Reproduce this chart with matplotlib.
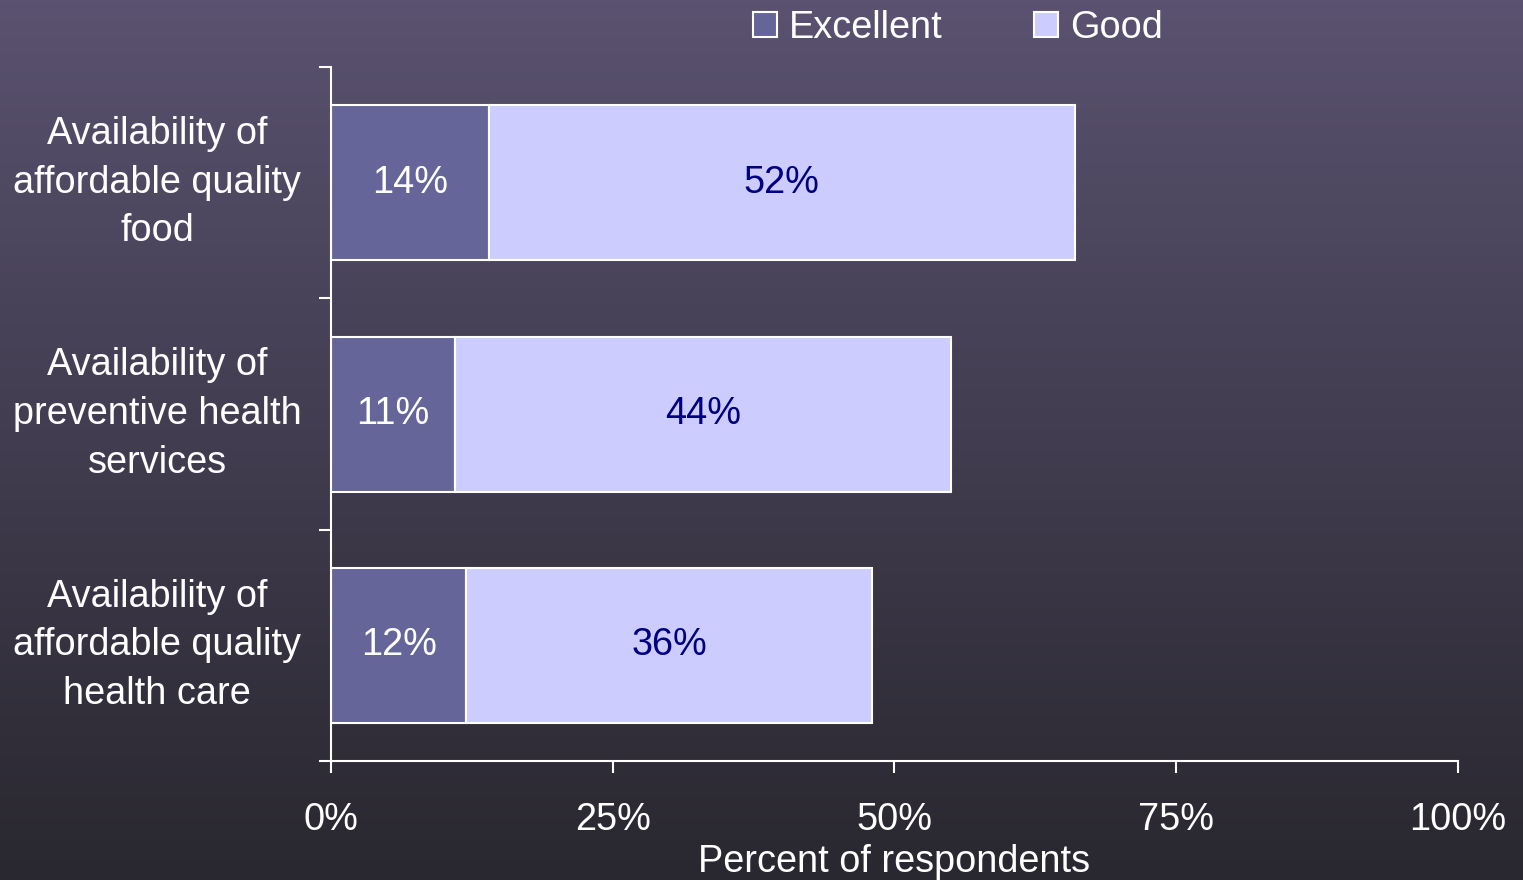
import numpy as np
import matplotlib
matplotlib.use("Agg")
import matplotlib.pyplot as plt
from matplotlib.patches import Patch

plt.rcParams["font.family"] = ["Liberation Sans", "DejaVu Sans"]

categories = [
    "Availability of\naffordable quality\nfood",
    "Availability of\npreventive health\nservices",
    "Availability of\naffordable quality\nhealth care",
]
excellent = [14, 11, 12]
good = [52, 44, 36]
x_ticks = [0, 25, 50, 75, 100]
x_tick_labels = ["0%", "25%", "50%", "75%", "100%"]

col_exc = "#65659a"
col_good = "#ccccff"
fs = 27.3

fig = plt.figure(figsize=(15.23, 8.8), dpi=100)

# background gradient
bg = fig.add_axes([0, 0, 1, 1], zorder=-10)
grad = np.linspace(0, 1, 256).reshape(-1, 1)
cmap = matplotlib.colors.LinearSegmentedColormap.from_list("bg", ["#5a5270", "#29272f"])
bg.imshow(grad, aspect="auto", cmap=cmap, extent=[0, 1, 0, 1], origin="upper")
bg.axis("off")

ax = fig.add_axes([0.2173, 0.1352, 0.740, 0.7886])
ax.set_facecolor("none")

y = np.arange(len(categories))
ax.barh(y, excellent, height=0.67, color=col_exc, edgecolor="white", linewidth=1.5)
ax.barh(y, good, left=excellent, height=0.67, color=col_good, edgecolor="white", linewidth=1.5)

for i in range(len(categories)):
    ax.text(excellent[i] / 2, y[i], f"{excellent[i]}%", ha="center", va="center",
            color="white", fontsize=fs)
    ax.text(excellent[i] + good[i] / 2, y[i], f"{good[i]}%", ha="center", va="center",
            color="#000080", fontsize=fs)

ax.set_xlim(0, 100)
ax.set_ylim(len(categories) - 0.5, -0.5)
ax.set_xticks(x_ticks)
ax.set_xticklabels(x_tick_labels, fontsize=fs, color="white")
ax.set_yticks(y)
ax.set_yticklabels(categories, fontsize=fs, color="white", ha="center", va="center",
                   linespacing=1.45)
ax.set_yticks(np.arange(len(categories) + 1) - 0.5, minor=True)
ax.tick_params(axis="y", which="major", length=0, pad=125)
ax.tick_params(axis="y", which="minor", length=8.6, width=1.5, color="white", direction="out")
ax.tick_params(axis="x", length=8.6, width=1.5, color="white", direction="out", pad=21)
ax.set_xlabel("Percent of respondents", fontsize=fs, color="white", labelpad=4)

for s in ["top", "right"]:
    ax.spines[s].set_visible(False)
for s in ["left", "bottom"]:
    ax.spines[s].set_color("white")
    ax.spines[s].set_linewidth(1.5)

handles = [Patch(facecolor=col_exc, edgecolor="white", linewidth=1.5, label="Excellent"),
           Patch(facecolor=col_good, edgecolor="white", linewidth=1.5, label="Good")]
leg = fig.legend(handles=handles, loc="upper center", bbox_to_anchor=(0.629, 1.019), ncol=2,
                 frameon=False, fontsize=fs, handlelength=0.64, handleheight=0.64,
                 handletextpad=0.32, columnspacing=2.4, borderpad=0.2)
for t in leg.get_texts():
    t.set_color("white")

fig.savefig("out.png", dpi=100)
